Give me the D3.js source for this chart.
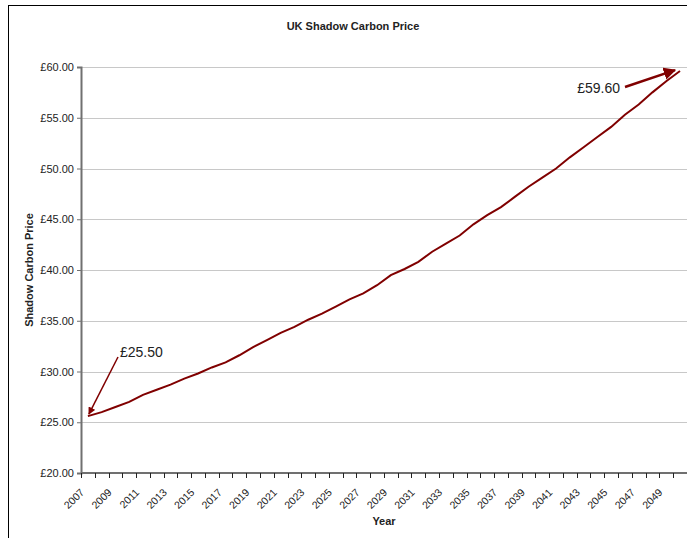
<!DOCTYPE html>
<html>
<head>
<meta charset="utf-8">
<script src="https://cdn.jsdelivr.net/npm/d3@7"></script>
<style>
  body { margin: 0; background: #fff; }
  text { font-family: "Liberation Sans", Arial, sans-serif; }
</style>
</head>
<body>
<div id="chart"></div>
<script>
const years = d3.range(2007, 2051)
const prices = [
  25.6, 26.0, 26.5, 27.0, 27.7, 28.2, 28.7, 29.3, 29.8, 30.4,
  30.9, 31.6, 32.4, 33.1, 33.8, 34.4, 35.1, 35.7, 36.4, 37.1,
  37.7, 38.5, 39.5, 40.1, 40.8, 41.8, 42.6, 43.4, 44.5, 45.4,
  46.2, 47.2, 48.2, 49.1, 50.0, 51.1, 52.1, 53.1, 54.1, 55.3,
  56.3, 57.5, 58.6, 59.6
]
const yTicks = [20, 25, 30, 35, 40, 45, 50, 55, 60]
const callouts = [
  { label: '£25.50', year: 2007, value: 25.5 },
  { label: '£59.60', year: 2050, value: 59.6 }
]

const width = 687
const height = 538
const margin = { left: 81, top: 67, bottom: 473 }
const lineColor = '#800000'

const svg = d3.select('#chart')
  .append('svg')
    .attr('width', width)
    .attr('height', height)

// outer chart frame (cut by the window on the right and bottom)
svg.append('rect')
  .attr('x', 8.5).attr('y', 5.5)
  .attr('width', 720).attr('height', 600)
  .attr('fill', 'none')
  .attr('stroke', '#000')
  .attr('stroke-width', 1)

const xScale = d3.scaleBand()
  .domain(years)
  .range([margin.left, margin.left + 44 * 13.77])

const yScale = d3.scaleLinear()
  .domain([20, 60])
  .range([margin.bottom, margin.top])

// gridlines
svg.append('g')
  .selectAll('line')
  .data(yTicks.slice(1))
  .enter()
  .append('line')
    .attr('x1', margin.left)
    .attr('x2', width)
    .attr('y1', d => Math.round(yScale(d)) + 0.5)
    .attr('y2', d => Math.round(yScale(d)) + 0.5)
    .attr('stroke', '#c8c8c8')
    .attr('stroke-width', 1)

// y axis
let yAxis = svg.append('g')
  .attr('transform', `translate(${margin.left},0)`)
  .call(d3.axisLeft(yScale)
    .tickValues(yTicks)
    .tickSize(4)
    .tickFormat(d => '£' + d3.format('.2f')(d)))
yAxis.select('.domain').attr('stroke', '#707070').attr('stroke-width', 2)
yAxis.selectAll('.tick line').attr('stroke', '#707070')
yAxis.selectAll('.tick text')
  .attr('font-size', 11)
  .attr('fill', '#222')
  .attr('x', -7)
  .style('font-family', '"Liberation Sans", Arial, sans-serif')

// x axis: ticks on band edges, labels every other year
let xAxis = svg.append('g')
  .attr('transform', `translate(0,${margin.bottom})`)
xAxis.append('line')
  .attr('x1', margin.left).attr('x2', width)
  .attr('stroke', '#707070').attr('stroke-width', 2)
xAxis.selectAll('.tk')
  .data(years)
  .enter()
  .append('line')
    .attr('class', 'tk')
    .attr('x1', d => Math.round(xScale(d)) + 0.5)
    .attr('x2', d => Math.round(xScale(d)) + 0.5)
    .attr('y1', 0).attr('y2', 5)
    .attr('stroke', '#222')
xAxis.selectAll('.lbl')
  .data(years.filter((d, i) => i % 2 === 0))
  .enter()
  .append('text')
    .attr('class', 'lbl')
    .attr('transform', d => `translate(${xScale(d) + xScale.bandwidth() / 2 - 3},20) rotate(-45)`)
    .attr('text-anchor', 'end')
    .attr('font-size', 10.5)
    .attr('fill', '#222')
    .text(d => d)

// the price line
let line = d3.line()
  .x((d, i) => xScale(years[i]) + xScale.bandwidth() / 2)
  .y(d => yScale(d))

svg.append('path')
  .datum(prices)
  .attr('d', line)
  .attr('fill', 'none')
  .attr('stroke', lineColor)
  .attr('stroke-width', 2)

// callouts
svg.append('defs').append('marker')
  .attr('id', 'arrow')
  .attr('viewBox', '0 0 10 10')
  .attr('refX', 9).attr('refY', 5)
  .attr('markerWidth', 5).attr('markerHeight', 5)
  .attr('orient', 'auto')
  .append('path')
    .attr('d', 'M0,0 L10,5 L0,10 Z')
    .attr('fill', lineColor)

let cx = d => xScale(d.year) + xScale.bandwidth() / 2

svg.append('line')
  .attr('x1', 118).attr('y1', 357)
  .attr('x2', cx(callouts[0]) + 1).attr('y2', yScale(callouts[0].value) - 3)
  .attr('stroke', lineColor).attr('stroke-width', 1.5)
  .attr('marker-end', 'url(#arrow)')
svg.append('text')
  .attr('x', 120).attr('y', 357)
  .attr('font-size', 14)
  .attr('fill', '#222')
  .text(callouts[0].label)

svg.append('line')
  .attr('x1', 625).attr('y1', 87)
  .attr('x2', cx(callouts[1]) - 5).attr('y2', yScale(callouts[1].value) - 1)
  .attr('stroke', lineColor).attr('stroke-width', 2.5)
  .attr('marker-end', 'url(#arrow)')
svg.append('text')
  .attr('x', 620).attr('y', 93)
  .attr('text-anchor', 'end')
  .attr('font-size', 14)
  .attr('fill', '#222')
  .text(callouts[1].label)

// titles
svg.append('text')
  .attr('x', 353).attr('y', 30)
  .attr('text-anchor', 'middle')
  .attr('font-size', 11)
  .attr('font-weight', 'bold')
  .attr('fill', '#222')
  .text('UK Shadow Carbon Price')

svg.append('text')
  .attr('x', 384).attr('y', 525)
  .attr('text-anchor', 'middle')
  .attr('font-size', 11)
  .attr('font-weight', 'bold')
  .attr('fill', '#222')
  .text('Year')

svg.append('text')
  .attr('transform', 'translate(33,270) rotate(-90)')
  .attr('text-anchor', 'middle')
  .attr('font-size', 11)
  .attr('font-weight', 'bold')
  .attr('fill', '#222')
  .text('Shadow Carbon Price')
</script>
</body>
</html>
